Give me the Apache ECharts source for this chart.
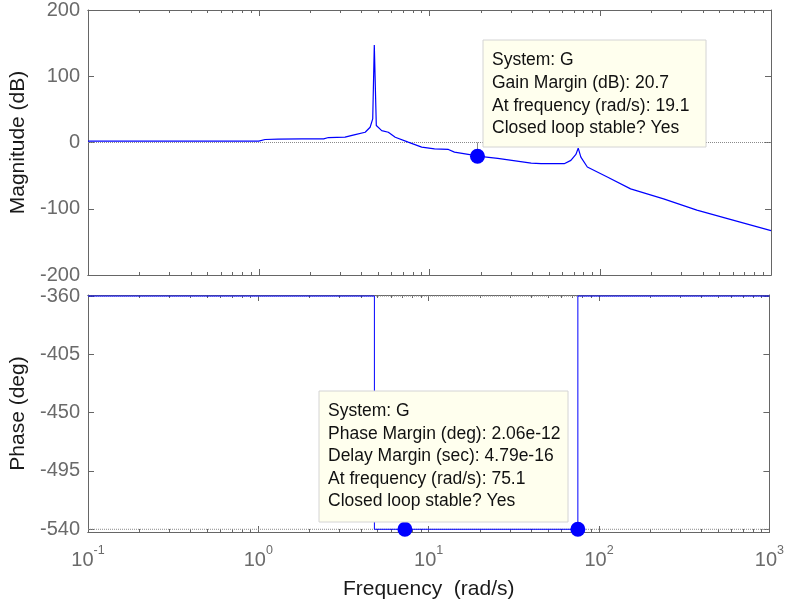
<!DOCTYPE html>
<html>
<head>
<meta charset="utf-8">
<script src="https://cdn.jsdelivr.net/npm/echarts@6/dist/echarts.min.js"></script>
<style>
html, body { margin: 0; padding: 0; background: #ffffff; }
#chart { width: 787px; height: 604px; }
</style>
</head>
<body>
<div id="chart"></div>
<script>
// Bode diagram of system G, with gain and phase margin markers.

// Magnitude response (rad/s, dB)
const magFreq = [0.1, 0.5, 1.0, 1.09, 1.3, 1.79, 2.4, 2.56, 3.2, 3.67, 4.2, 4.49, 4.65, 4.75, 4.88, 5.25, 5.74, 6.3, 7.5, 9.0, 10.7, 12.9, 14.0, 18.3, 19.1, 25.1, 39.4, 45, 61.5, 67.3, 72, 74.3, 77, 84, 110, 150.6, 235, 368, 577, 1000];
const magDb   = [2,   2,   2,   4.5,  5,   5.5,  5.5, 7.5,  8,   12,   15.5, 23,   35.6, 147,  25.6, 18,   15.5, 8,   0.5, -7,  -9.5, -10.5, -14.5, -19.5, -20.7, -24, -31, -32, -32, -27, -18, -8.5, -22, -37, -52, -70, -85, -102, -116, -133];

// Phase response (rad/s, deg)
const phaseFreq = [0.1, 4.8, 4.8, 75.1, 75.1, 1000];
const phaseDeg  = [-360, -360, -540, -540, -360, -360];

// Margin markers
const gainMarginFreq = [19.1];
const gainMarginDb = [-20.7];
const phaseMarkerFreq = [7.25, 75.1];
const phaseMarkerDeg = [-540, -540];

// Reference levels
const magRefLevel = 0;
const phaseRefLevels = [-360, -540];

// Tick values
const decadeTicks = [0.1, 1, 10, 100, 1000];
const magTicks = [-200, -100, 0, 100, 200];
const phaseTicks = [-540, -495, -450, -405, -360];

// Data tip texts
const gainTip = ['System: G', 'Gain Margin (dB): 20.7', 'At frequency (rad/s): 19.1', 'Closed loop stable? Yes'];
const phaseTip = ['System: G', 'Phase Margin (deg): 2.06e-12', 'Delay Margin (sec): 4.79e-16', 'At frequency (rad/s): 75.1', 'Closed loop stable? Yes'];

const minorTicks = [];
decadeTicks.slice(0, -1).forEach(d => { for (let k = 2; k <= 9; k++) minorTicks.push(+(k * d).toPrecision(3)); });

const FONT = '"Liberation Sans", Arial, sans-serif';
const FRAME = '#666666';
const LABEL = '#6a6a6a';
const BLUE = '#0000ff';

function xAxesFor(gridIndex, withLabels) {
  const base = {
    type: 'log', logBase: 10, min: 0.1, max: 1000, gridIndex,
    splitLine: { show: false },
    axisLine: { show: true, onZero: false, lineStyle: { color: FRAME, width: 1 } },
    axisLabel: { show: false }
  };
  const major = {
    ...base, position: 'bottom',
    axisTick: { inside: true, length: 6, customValues: decadeTicks, lineStyle: { color: FRAME } }
  };
  if (withLabels) {
    major.axisLabel = {
      show: true, margin: 12, customValues: decadeTicks,
      formatter: v => '{b|10}{s|' + Math.round(Math.log10(v)) + '}',
      rich: {
        b: { fontFamily: FONT, fontSize: 20, color: LABEL },
        s: { fontFamily: FONT, fontSize: 12.5, color: LABEL, padding: [0, 0, 20, 0] }
      }
    };
    major.name = 'Frequency  (rad/s)';
    major.nameLocation = 'middle';
    major.nameGap = 47;
    major.nameTextStyle = { fontFamily: FONT, fontSize: 21, color: '#1a1a1a' };
  }
  return [
    major,
    { ...base, position: 'bottom', axisTick: { inside: true, length: 3, customValues: minorTicks, lineStyle: { color: FRAME } } },
    { ...base, position: 'top', axisTick: { inside: true, length: 6, customValues: decadeTicks, lineStyle: { color: FRAME } } },
    { ...base, position: 'top', axisTick: { inside: true, length: 3, customValues: minorTicks, lineStyle: { color: FRAME } } }
  ];
}

function yAxesFor(gridIndex, min, max, ticks, name) {
  const base = {
    type: 'value', gridIndex, min, max,
    splitLine: { show: false },
    axisLine: { show: true, onZero: false, lineStyle: { color: FRAME, width: 1 } },
    axisTick: { inside: true, length: 6, customValues: ticks, lineStyle: { color: FRAME } }
  };
  return [
    {
      ...base, position: 'left',
      axisLabel: { show: true, margin: 8, customValues: ticks, fontFamily: FONT, fontSize: 20, color: LABEL },
      name, nameLocation: 'middle', nameGap: 59,
      nameTextStyle: { fontFamily: FONT, fontSize: 21, color: '#1a1a1a' }
    },
    { ...base, position: 'right', axisLabel: { show: false } }
  ];
}

const zip = (xs, ys) => xs.map((x, i) => [x, ys[i]]);

function tipBox(x, y, w, h, lines, lineHeight) {
  return {
    type: 'group', x, y, z: 100,
    children: [
      { type: 'rect', z: 100, shape: { x: 0, y: 0, width: w, height: h },
        style: { fill: '#ffffee', stroke: '#d4d4d4', lineWidth: 1 } },
      { type: 'text', z: 101, x: 9, y: 9,
        style: { text: lines.join('\n'), font: '17.5px ' + FONT, lineHeight, fill: '#111111' } }
    ]
  };
}

const chart = echarts.init(document.getElementById('chart'), null, { renderer: 'canvas' });
chart.setOption({
  animation: false,
  backgroundColor: '#ffffff',
  grid: [
    { left: 85, top: 9, width: 686, height: 266, containLabel: false },
    { left: 85, top: 295, width: 686, height: 237, containLabel: false }
  ],
  xAxis: [...xAxesFor(0, false), ...xAxesFor(1, true)],
  yAxis: [
    ...yAxesFor(0, -200, 200, magTicks, 'Magnitude (dB)'),
    ...yAxesFor(1, -542.1, -359.2, phaseTicks, 'Phase (deg)')
  ],
  series: [
    {
      type: 'line', xAxisIndex: 0, yAxisIndex: 0, symbol: 'none', silent: true,
      data: [[0.1, magRefLevel], [1000, magRefLevel]],
      lineStyle: { color: '#8a8a8a', width: 1, type: 'dotted' }
    },
    {
      type: 'line', xAxisIndex: 0, yAxisIndex: 0, symbol: 'none', silent: true,
      data: [[gainMarginFreq[0], magRefLevel], [gainMarginFreq[0], gainMarginDb[0]]],
      lineStyle: { color: '#8a8a8a', width: 1 }
    },
    {
      type: 'line', xAxisIndex: 0, yAxisIndex: 0, symbol: 'none',
      data: zip(magFreq, magDb),
      lineStyle: { color: BLUE, width: 1.2 }
    },
    {
      type: 'scatter', xAxisIndex: 0, yAxisIndex: 0, symbolSize: 15, z: 5,
      data: zip(gainMarginFreq, gainMarginDb),
      itemStyle: { color: BLUE, opacity: 1 }
    },
    ...phaseRefLevels.map(lv => ({
      type: 'line', xAxisIndex: 4, yAxisIndex: 2, symbol: 'none', silent: true,
      data: [[0.1, lv], [1000, lv]],
      lineStyle: { color: '#8a8a8a', width: 1, type: 'dotted' }
    })),
    {
      type: 'line', xAxisIndex: 4, yAxisIndex: 2, symbol: 'none',
      data: zip(phaseFreq, phaseDeg),
      lineStyle: { color: BLUE, width: 1 }
    },
    {
      type: 'scatter', xAxisIndex: 4, yAxisIndex: 2, symbolSize: 15, z: 5,
      data: zip(phaseMarkerFreq, phaseMarkerDeg),
      itemStyle: { color: BLUE, opacity: 1 }
    }
  ],
  graphic: [
    tipBox(483, 40, 223, 107, gainTip, 22.7),
    tipBox(319, 391, 249, 131, phaseTip, 22.5)
  ]
});
</script>
</body>
</html>
